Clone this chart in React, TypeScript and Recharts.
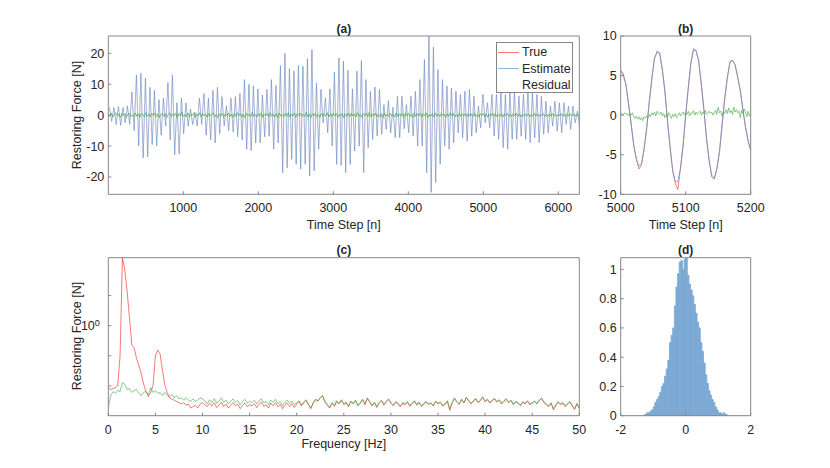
import React from "react"
import { Bar, ComposedChart, Legend, Line, XAxis, YAxis } from "recharts"

const FONT = '"Liberation Sans", Arial, Helvetica, sans-serif'
const INK = "#262626"
const FRAME = "#868686"
const RED = "#f01e1e"
const BLUE = "#4a90d4"
const GREEN = "#3aa83c"
const HIST = "#7ba9d4"

// (a) whole record, one max and one min per ~60-step cycle
const aPeaks = [
  2.5, 2.5, 2.8, 2.5, 3, 7.5, 13, 13.5, 12, 9, 8, 5, 5.5, 10.5, 13, 4, 5.5, 4, 2, 1,
  5.5, 7, 5.5, 8, 9, 6, 3, 5.5, 6, 7, 11.5, 10, 9.5, 8.5, 6.5,
  8.3, 11.5, 9.6, 16, 20, 15, 14.2, 16, 15.8, 18.2, 21.2, 10.4, 8.3, 5.6, 8.5, 13.9, 18.5, 17.4, 14.5, 8.5,
  14.2, 17.6, 11.5, 7.7, 9.1, 8.3, 3.4, 4.7, 2.6, 6.1, 6.1, 3.4, 6.1, 7.7, 11.5,
  18, 25.5, 22, 14.7, 11.5, 9.4, 8.8, 7.7, 6.7, 7.7, 8.3, 6.1, 2.9, 6.7, 4, 6.7, 6.7, 7.7, 6.7, 7.2,
  7.7, 6.1, 6.7, 7.7, 7.2, 6.7, 6.1, 4.5, 2.9, 4.5, 4, 4, 2.9, 2.9, 1.3,
]
const aTroughs = [
  -2, -3, -3.3, -2.5, -3, -5, -10, -13.8, -13.5, -9.5, -10, -6.5, -3.5, -8, -12.8, -12.5, -6, -3.5, -3, -3.5,
  -3, -6.5, -8, -9, -6, -3.5, -5, -5.5, -7, -8, -11, -11.5, -9, -9, -7,
  -6.8, -11, -9, -18.6, -17, -14.3, -15.9, -17.5, -15.9, -19.7, -18, -11, -2.5, -5.7, -10, -15.9, -16.2, -18.6, -15.9, -11.6,
  -10, -18.6, -10.5, -7.8, -6.8, -6.2, -4.6, -5.7, -7.3, -7.3, -4.4, -5.7, -6.8, -10, -10,
  -18.6, -25, -21.8, -15.9, -10, -11, -8.9, -5.7, -7.3, -8.4, -6.8, -5.7, -4.1, -2.5, -4.1, -6.8, -7.8, -10.5, -11, -7.8,
  -7.8, -6.8, -7.8, -8.9, -7.3, -8.9, -6.2, -5.7, -3.5, -5.2, -5.7, -3, -4.6, -2.5, -3.5,
]
// residual, every 20 steps
const aResidual = [
  0.5, -0.4, 0.7, -0.6, 0.2, 0.8, -0.3, 0.4, -0.7, 0.6, -0.2, 0.5, -0.8, 0.3, 0.6, -0.5, 0.1, -0.6, 0.7, -0.3,
  0.4, -0.7, 0.5, 0.2, -0.5, 0.8, -0.4, 0.3, -0.6, 0.6, -0.1, 0.7, -0.5, 0.4, -0.8, 0.2, 0.6, -0.4, 0.5, -0.7,
  0.3, 0.7, -0.5, 0.4, -0.2, 0.6, -0.8, 0.5, -0.3, 0.9, -0.4, 0.2, -0.6, 0.7, -0.5, 0.3, -0.1, 0.6, -0.7, 0.4,
  -0.3, 0.8, -0.6, 0.5, -0.2, 0.4, -0.7, 0.6, -0.4, 0.3, 0.7, -0.5, 0.2, -0.8, 0.5, -0.3, 0.6, -0.6, 0.4, -0.2,
  0.7, -0.5, 0.3, -0.7, 0.6, -0.4, 0.8, -0.2, 0.5, -0.6, 0.3, -0.8, 0.6, -0.3, 0.4, -0.5, 0.9, -0.4, 0.2, -0.6,
  0.5, -0.3, 0.7, -0.7, 0.4, -0.2, 0.6, -0.5, 0.8, -0.4, 0.3, -0.6, 0.5, -0.8, 0.7, -0.3, 0.2, -0.5, 0.6, -0.4,
  0.8, -0.6, 0.4, -0.3, 0.6, -0.7, 0.5, -0.2, 0.7, -0.5, 0.3, -0.4, 0.9, -0.6, 0.4, -0.8, 0.5, -0.3, 0.6, -0.5,
  0.2, -0.7, 0.6, -0.4, 0.5, -0.3, 0.8, -0.6, 0.4, -0.5, 0.7, -0.2, 0.5, -0.7, 0.3, -0.4, 0.6, -0.8, 0.4, -0.3,
  0.7, -0.5, 0.6, -0.3, 0.4, -0.6, 0.8, -0.4, 0.3, -0.7, 0.5, -0.2, 0.6, -0.5, 0.9, -0.6, 0.4, -0.3, 0.7, -0.5,
  0.3, -0.6, 0.5, -0.8, 0.6, -0.3, 0.4, -0.5, 0.7, -0.4, 0.2, -0.6, 0.8, -0.5, 0.4, -0.3, 0.6, -0.7, 0.5, -0.2,
  0.6, -0.4, 0.3, -0.7, 0.8, -0.5, 0.5, -0.3, 0.6, -0.6, 0.4, -0.2, 0.7, -0.8, 0.3, -0.4, 0.5, -0.6, 0.7, -0.3,
  0.4, -0.5, 0.6, -0.2, 0.3, -0.7, 0.5, -0.4, 0.8, -0.3, 0.6, -0.6, 0.2, -0.5, 0.7, -0.4, 0.4, -0.3, 0.5, -0.6,
  0.6, -0.3, 0.4, -0.5, 0.7, -0.4, 0.3, -0.6, 0.5, -0.2, 0.6, -0.5, 0.4, -0.7, 0.3, -0.3, 0.6, -0.4, 0.5, -0.5,
  0.3, -0.4, 0.5, -0.6, 0.4, -0.2, 0.6, -0.5, 0.3, -0.4, 0.5, -0.3, 0.6, -0.5, 0.4, -0.6, 0.3, -0.4, 0.5, -0.3,
  0.4, -0.5, 0.3, -0.4, 0.6, -0.3, 0.4, -0.5, 0.3, -0.2, 0.5, -0.4, 0.3, -0.5, 0.4, -0.3, 0.5, -0.4, 0.3, -0.4,
  0.4, -0.3, 0.5, -0.4, 0.3, -0.5, 0.4, -0.3, 0.5, -0.2, 0.4, -0.4, 0.3, -0.3, 0.4,
]
const aXTicks = [1000, 2000, 3000, 4000, 5000, 6000]
const aYTicks = [-20, -10, 0, 10, 20]

// (b) zoom 5000-5200, estimate/true every 4 steps, residual every 2
const bEstimate = [
  5.6, 5.26, 3.83, 1.55, -1.13, -3.66, -5.57, -6.46,
  -6.09, -4.35, -1.58, 1.67, 4.75, 7.07, 8.15,
  7.76, 5.9, 2.92, -0.65, -4.13, -6.9, -8.41,
  -8.39, -6.75, -3.79, -0.1, 3.59, 6.55, 8.19,
  8.21, 6.73, 4.04, 0.64, -2.84, -5.75, -7.57,
  -7.95, -6.85, -4.49, -1.34, 1.98, 4.8, 6.58,
  6.95, 6.3, 4.9, 3.0, 0.8, -1.4, -3.1, -4.4,
]
const bTrue = [
  5.7, 5.0, 3.9, 1.4, -1.0, -3.9, -5.5, -6.8,
  -6.3, -4.2, -1.7, 1.8, 4.6, 7.3, 7.9,
  7.9, 5.7, 3.1, -0.9, -4.0, -7.1, -8.6,
  -9.4, -6.6, -3.9, 0.1, 3.4, 6.7, 8.4,
  8.1, 6.9, 3.8, 0.8, -3.0, -5.6, -7.8,
  -8.1, -6.7, -4.7, -1.1, 2.1, 4.6, 6.8,
  6.9, 6.4, 4.7, 3.2, 0.6, -1.6, -3.3, -4.5,
]
const bResidual = [
  0.1, 0.2, 0.0, 0.3, 0.1, 0.2, -0.1, 0.2, 0.0, 0.3, -0.2,
  -0.4, -0.1, -0.5, -0.2, -0.6, -0.3, -0.7, -0.2, -0.4, -0.1,
  -0.3, 0.1, -0.2, 0.3, 0.0, 0.4, -0.1, 0.5, 0.2, 0.1,
  0.4, -0.1, 0.2, -0.3, 0.1, -0.2, 0.3, 0.0, -0.4, 0.1,
  -0.2, 0.2, -0.3, 0.0, 0.3, -0.1, 0.2, 0.4, 0.0, 0.3,
  0.1, 0.5, -0.1, 0.3, 0.2, 0.6, 0.0, 0.4, 0.1, 0.3,
  0.5, 0.0, 0.4, 0.2, 0.6, 0.1, 0.3, 0.5, 0.2, 0.4,
  0.0, 0.3, 0.6, 0.1, 1.0, 0.3, 0.5, -0.1, 0.4, 0.2,
  0.7, 0.2, 0.9, 0.3, 0.6, 0.1, 1.0, 0.4, 0.7, 0.3,
  0.5, -0.3, 0.6, 0.2, 0.8, 0.4, -0.2, 0.5, -0.1, 0.3,
]
const bXTicks = [5000, 5100, 5200]
const bYTicks = [-10, -5, 0, 5, 10]

// (c) amplitude spectra every 0.25 Hz: 0-10 Hz, then 10.25-50 Hz
const cTrueLow = [
  0.24, 0.23, 0.235, 0.24, 0.25, 0.5, 4.75, 3.6, 2.2, 1.2, 0.64, 0.6, 0.47, 0.4, 0.33, 0.26, 0.22, 0.195, 0.215, 0.25,
  0.5, 0.57, 0.52, 0.36, 0.255, 0.215, 0.19, 0.185, 0.18, 0.175, 0.17, 0.165, 0.17, 0.16, 0.165, 0.15, 0.155, 0.16, 0.15, 0.165,
  0.17,
]
const cTrueHigh = [
  0.162, 0.155, 0.168, 0.158, 0.17, 0.152, 0.16, 0.172, 0.155, 0.165, 0.15, 0.162, 0.17, 0.158, 0.164, 0.148, 0.16, 0.168, 0.155, 0.162,
  0.158, 0.166, 0.152, 0.164, 0.172, 0.156, 0.162, 0.15, 0.168, 0.158, 0.17, 0.155, 0.163, 0.148, 0.16, 0.168, 0.156, 0.166, 0.152, 0.165,
  0.175, 0.158, 0.17, 0.18, 0.162, 0.148, 0.168, 0.182, 0.178, 0.19, 0.2, 0.172, 0.16, 0.15, 0.168, 0.156, 0.175, 0.165, 0.18, 0.162,
  0.17, 0.155, 0.174, 0.165, 0.178, 0.158, 0.168, 0.182, 0.162, 0.188, 0.172, 0.157, 0.17, 0.152, 0.168, 0.178, 0.16, 0.172, 0.183, 0.168,
  0.158, 0.172, 0.165, 0.154, 0.168, 0.162, 0.172, 0.156, 0.166, 0.175, 0.16, 0.17, 0.155, 0.165, 0.172, 0.162, 0.168, 0.157, 0.174, 0.165,
  0.17, 0.157, 0.162, 0.175, 0.142, 0.168, 0.186, 0.172, 0.163, 0.182, 0.168, 0.19, 0.177, 0.165, 0.175, 0.185, 0.17, 0.178, 0.192, 0.173,
  0.182, 0.168, 0.178, 0.185, 0.172, 0.18, 0.165, 0.175, 0.183, 0.17, 0.178, 0.162, 0.173, 0.168, 0.158, 0.172, 0.165, 0.175, 0.162, 0.168,
  0.174, 0.165, 0.178, 0.187, 0.17, 0.162, 0.155, 0.168, 0.144, 0.158, 0.172, 0.162, 0.168, 0.155, 0.165, 0.172, 0.157, 0.145, 0.165, 0.148,
]
const cResLow = [
  0.149, 0.2, 0.22, 0.21, 0.225, 0.22, 0.27, 0.26, 0.23, 0.235, 0.215, 0.225, 0.23, 0.21, 0.2, 0.215, 0.22, 0.205, 0.24, 0.215,
  0.225, 0.21, 0.215, 0.2, 0.215, 0.2, 0.195, 0.205, 0.19, 0.2, 0.185, 0.19, 0.18, 0.19, 0.18, 0.175, 0.185, 0.175, 0.18, 0.19,
  0.185,
]
const cResHigh = [
  0.178, 0.165, 0.182, 0.17, 0.186, 0.168, 0.175, 0.19, 0.172, 0.18, 0.166, 0.176, 0.185, 0.17, 0.178, 0.162, 0.174, 0.183, 0.168, 0.176,
  0.17, 0.18, 0.165, 0.177, 0.186, 0.169, 0.175, 0.162, 0.18, 0.171, 0.184, 0.166, 0.174, 0.158, 0.172, 0.18, 0.167, 0.176, 0.163, 0.17,
  0.178, 0.16, 0.172, 0.182, 0.165, 0.15, 0.17, 0.185, 0.175, 0.192, 0.198, 0.176, 0.164, 0.152, 0.17, 0.16, 0.178, 0.168, 0.182, 0.165,
  0.172, 0.158, 0.176, 0.168, 0.18, 0.16, 0.17, 0.184, 0.166, 0.19, 0.175, 0.16, 0.172, 0.156, 0.17, 0.18, 0.165, 0.175, 0.186, 0.17,
  0.162, 0.174, 0.168, 0.158, 0.17, 0.165, 0.175, 0.16, 0.168, 0.178, 0.164, 0.172, 0.158, 0.168, 0.175, 0.165, 0.17, 0.16, 0.176, 0.168,
  0.172, 0.16, 0.165, 0.178, 0.148, 0.17, 0.19, 0.175, 0.166, 0.185, 0.17, 0.192, 0.18, 0.168, 0.178, 0.188, 0.172, 0.18, 0.195, 0.176,
  0.185, 0.17, 0.18, 0.188, 0.175, 0.182, 0.168, 0.178, 0.186, 0.172, 0.18, 0.165, 0.176, 0.17, 0.162, 0.174, 0.168, 0.178, 0.165, 0.17,
  0.176, 0.168, 0.18, 0.19, 0.172, 0.165, 0.158, 0.17, 0.148, 0.162, 0.175, 0.165, 0.17, 0.158, 0.168, 0.175, 0.16, 0.148, 0.168, 0.15,
]
const cXTicks = [0, 5, 10, 15, 20, 25, 30, 35, 40, 45, 50]
const cYTicks = [0.25, 0.5, 1, 2]

// (d) residual histogram, pdf per 0.05 bin from -1.3 to 1.3
const dDensity = [
  0.005, 0.01, 0.02, 0.02, 0.03, 0.04, 0.06, 0.09, 0.11, 0.13, 0.16, 0.2, 0.22, 0.27, 0.32, 0.38, 0.5, 0.55, 0.6, 0.75,
  0.88, 0.97, 1.05, 1.06, 1.0, 1.07, 1.08, 0.96, 0.9, 0.86, 0.82, 0.76, 0.7, 0.64, 0.6, 0.5, 0.44, 0.36, 0.28, 0.22,
  0.17, 0.14, 0.11, 0.09, 0.06, 0.04, 0.02, 0.02, 0.01, 0.02, 0.01, 0.005,
]
const dXTicks = [-2, 0, 2]
const dYTicks = [0, 0.2, 0.4, 0.6, 0.8, 1]

const legendItems = [
  { name: "True", color: "#ff7474" },
  { name: "Estimate", color: "#8ab4dc" },
  { name: "Residual", color: null }, // the reference legend shows no swatch here
]

const aSignal = aPeaks.flatMap((p, i) => [
  { t: i * 60 + 15, v: p },
  { t: i * 60 + 45, v: aTroughs[i] },
])
const aRes = aResidual.map((v, i) => ({ t: i * 20, v }))
const bEst = bEstimate.map((v, i) => ({ t: 5000 + i * 4, v }))
const bTru = bTrue.map((v, i) => ({ t: 5000 + i * 4, v }))
const bRes = bResidual.map((v, i) => ({ t: 5000 + i * 2, v }))
const cTrue = [...cTrueLow, ...cTrueHigh]
const cRes = [...cResLow, ...cResHigh]
const cSpec = cTrue.map((v, i) => ({ f: i * 0.25, tru: v, res: cRes[i] }))
const dRows = dDensity.map((d, i) => ({ x: -1.275 + i * 0.05, d }))

const tickText = { fill: INK, fontSize: 12.5, fontFamily: FONT }
const frameLine = { stroke: FRAME, strokeWidth: 1 }

type Frame = {
  xKey: string
  xDomain: [number, number]
  xTicks: number[]
  yDomain: [number, number]
  yTicks: number[]
  yLog?: boolean
  yTick?: any
}

// box on, ticks pointing in on all four sides (MATLAB style)
function frameAxes(f: Frame) {
  const yScale = f.yLog ? "log" : "auto"
  return [
    <XAxis
      key="xb"
      type="number"
      dataKey={f.xKey}
      domain={f.xDomain}
      ticks={f.xTicks}
      interval={0}
      allowDataOverflow
      height={1}
      tickSize={-3}
      tickMargin={12}
      tick={tickText}
      axisLine={frameLine}
      tickLine={frameLine}
    />,
    <XAxis
      key="xt"
      xAxisId="t"
      orientation="top"
      type="number"
      domain={f.xDomain}
      ticks={f.xTicks}
      interval={0}
      allowDataOverflow
      height={1}
      tickSize={-3}
      tick={false}
      axisLine={frameLine}
      tickLine={frameLine}
    />,
    <YAxis
      key="yl"
      type="number"
      scale={yScale}
      domain={f.yDomain}
      ticks={f.yTicks}
      interval={0}
      allowDataOverflow
      width={1}
      tickSize={-3}
      tickMargin={7}
      tick={f.yTick ?? tickText}
      axisLine={frameLine}
      tickLine={frameLine}
    />,
    <YAxis
      key="yr"
      yAxisId="r"
      orientation="right"
      type="number"
      scale={yScale}
      domain={f.yDomain}
      ticks={f.yTicks}
      interval={0}
      allowDataOverflow
      width={1}
      tickSize={-3}
      tick={false}
      axisLine={frameLine}
      tickLine={frameLine}
    />,
  ]
}

function PowerTick(props: any) {
  const { x, y, payload } = props
  if (payload.value !== 1) return <g />
  return (
    <text x={x - 4.5} y={y} dy="0.36em" textAnchor="end" fill={INK} fontSize={12.5} fontFamily={FONT}>
      10
      <tspan dy="-0.5em" fontSize={9}>
        0
      </tspan>
    </text>
  )
}

function LegendBox() {
  return (
    <div
      style={{
        boxSizing: "border-box",
        width: 77,
        height: 51,
        background: "#fff",
        border: `1px solid ${FRAME}`,
        paddingTop: 1.5,
      }}
    >
      {legendItems.map((it) => (
        <div
          key={it.name}
          style={{
            display: "flex",
            alignItems: "center",
            height: 16.3,
            fontFamily: FONT,
            fontSize: 12.5,
            color: INK,
          }}
        >
          <span
            style={{
              display: "inline-block",
              width: 20.5,
              height: 1,
              marginLeft: 1,
              marginRight: 3.5,
              background: it.color ?? "transparent",
            }}
          />
          {it.name}
        </div>
      ))}
    </div>
  )
}

function Caption({ x, y, text, bold, vertical }: { x: number; y: number; text: string; bold?: boolean; vertical?: boolean }) {
  return (
    <div
      style={{
        position: "absolute",
        left: x,
        top: y,
        transform: `translate(-50%, -50%)${vertical ? " rotate(-90deg)" : ""}`,
        whiteSpace: "nowrap",
        lineHeight: 1,
        fontFamily: FONT,
        fontSize: bold ? 12 : 12.5,
        fontWeight: bold ? 700 : 400,
        color: INK,
      }}
    >
      {text}
    </div>
  )
}

const lineProps = { dot: false, activeDot: false, isAnimationActive: false, type: "linear" as const }

export default function App() {
  return (
    <div style={{ position: "absolute", left: 0, top: 0, width: 830, height: 468, background: "#fff", overflow: "hidden" }}>
      <div style={{ position: "absolute", left: 40, top: 14 }}>
        <ComposedChart width={550} height={226} margin={{ top: 21, right: 9.7, bottom: 44.7, left: 67.3 }}>
          {frameAxes({ xKey: "t", xDomain: [0, 6280], xTicks: aXTicks, yDomain: [-25.6, 25.6], yTicks: aYTicks })}
          <Line {...lineProps} data={aSignal} dataKey="v" name="True" stroke={RED} strokeWidth={0.3} strokeOpacity={0.5} />
          <Line {...lineProps} data={aSignal} dataKey="v" name="Estimate" stroke={BLUE} strokeWidth={0.5} />
          <Line {...lineProps} data={aRes} dataKey="v" name="Residual" stroke={GREEN} strokeWidth={0.7} />
          <Legend
            layout="horizontal"
            align="center"
            verticalAlign="middle"
            content={<LegendBox />}
            wrapperStyle={{ left: 456, top: 27.7, width: 77, height: 51 }}
          />
        </ComposedChart>
      </div>

      <div style={{ position: "absolute", left: 585, top: 14 }}>
        <ComposedChart width={180} height={226} margin={{ top: 21, right: 13.3, bottom: 44.7, left: 34.7 }}>
          {frameAxes({ xKey: "t", xDomain: [5000, 5200], xTicks: bXTicks, yDomain: [-10, 10], yTicks: bYTicks })}
          <Line {...lineProps} data={bTru} dataKey="v" name="True" stroke={RED} strokeWidth={0.55} />
          <Line {...lineProps} data={bEst} dataKey="v" name="Estimate" stroke={BLUE} strokeWidth={0.65} />
          <Line {...lineProps} data={bRes} dataKey="v" name="Residual" stroke={GREEN} strokeWidth={0.6} />
        </ComposedChart>
      </div>

      <div style={{ position: "absolute", left: 40, top: 240 }}>
        <ComposedChart width={550} height={200} data={cSpec} margin={{ top: 16.7, right: 9.7, bottom: 23.3, left: 67.3 }}>
          {frameAxes({
            xKey: "f",
            xDomain: [0, 50],
            xTicks: cXTicks,
            yDomain: [0.1259, 4.786],
            yTicks: cYTicks,
            yLog: true,
            yTick: <PowerTick />,
          })}
          <Line {...lineProps} dataKey="tru" name="True" stroke={RED} strokeWidth={0.6} />
          <Line {...lineProps} dataKey="res" name="Residual" stroke={GREEN} strokeWidth={0.6} />
        </ComposedChart>
      </div>

      <div style={{ position: "absolute", left: 585, top: 240 }}>
        <ComposedChart
          width={180}
          height={200}
          data={dRows}
          barCategoryGap={0}
          barGap={0}
          margin={{ top: 16.7, right: 13.3, bottom: 23.3, left: 34.7 }}
        >
          {frameAxes({ xKey: "x", xDomain: [-2, 2], xTicks: dXTicks, yDomain: [0, 1.08], yTicks: dYTicks })}
          <Bar dataKey="d" fill={HIST} stroke={HIST} strokeWidth={0.8} barSize={1.6} isAnimationActive={false} />
        </ComposedChart>
      </div>

      <Caption x={343.8} y={29} text="(a)" bold />
      <Caption x={685.7} y={29} text="(b)" bold />
      <Caption x={343.8} y={250} text="(c)" bold />
      <Caption x={685.7} y={250} text="(d)" bold />
      <Caption x={77} y={115} text="Restoring Force [N]" vertical />
      <Caption x={77} y={336} text="Restoring Force [N]" vertical />
      <Caption x={343.8} y={225} text="Time Step [n]" />
      <Caption x={685.7} y={225} text="Time Step [n]" />
      <Caption x={343.8} y={444} text="Frequency [Hz]" />
    </div>
  )
}
